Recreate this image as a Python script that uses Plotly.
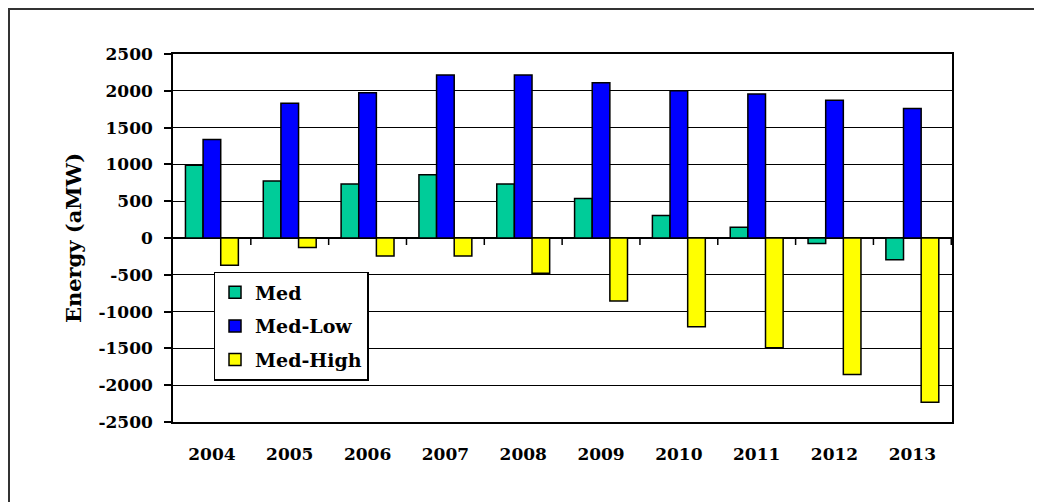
import plotly.graph_objects as go

years = ["2004", "2005", "2006", "2007", "2008", "2009", "2010", "2011", "2012", "2013"]
med = [990, 775, 735, 860, 735, 535, 305, 145, -75, -295]
med_low = [1340, 1830, 1975, 2215, 2215, 2110, 2000, 1955, 1870, 1760]
med_high = [-370, -130, -245, -245, -480, -855, -1205, -1490, -1855, -2230]
yticks = [2500, 2000, 1500, 1000, 500, 0, -500, -1000, -1500, -2000, -2500]
yticklabels = [str(v) for v in yticks]

FONT = "DejaVu Serif"
fig = go.Figure()
series = [("Med", med, "#00CC99"), ("Med-Low", med_low, "#0000FF"), ("Med-High", med_high, "#FFFF00")]
for name, vals, col in series:
    fig.add_trace(go.Bar(x=years, y=vals, name=name, legendgroup=name,
                         marker=dict(color=col, line=dict(color="black", width=1.5))))

# page has an 8px body margin: figure is offset by 8px right/down
fig.update_layout(
    width=1042, height=502,
    margin=dict(l=165, r=98, t=46, b=88, autoexpand=False),
    paper_bgcolor="white", plot_bgcolor="white",
    barmode="group", bargap=0.32, bargroupgap=0,
    font=dict(family=FONT, color="black", size=17, weight="bold"),
    xaxis=dict(type="category", showgrid=False, showline=True, mirror=True, linecolor="black",
               linewidth=1.5, ticks="", ticklabelstandoff=16, zeroline=False, automargin=False,
               tickfont=dict(family=FONT, size=17, weight="bold")),
    yaxis=dict(range=[-2500, 2500], tickmode="array", tickvals=yticks, ticktext=yticklabels,
               showgrid=True, gridcolor="black", gridwidth=1,
               showline=True, mirror=True, linecolor="black", linewidth=1.5, ticks="outside",
               ticklen=7, tickcolor="black", tickwidth=1.5, ticklabelstandoff=8,
               zeroline=True, zerolinecolor="black", zerolinewidth=1.5,
               automargin=False,
               tickfont=dict(family=FONT, size=17, weight="bold"),
               title=dict(text="Energy (aMW)", standoff=11,
                          font=dict(family=FONT, size=21, weight="bold"))),
    legend=dict(x=0.052, y=0.408, xanchor="left", yanchor="top", bgcolor="white",
                bordercolor="black", borderwidth=1.5, traceorder="grouped", tracegroupgap=6,
                itemwidth=30,
                font=dict(family=FONT, size=19, weight="bold")),
    showlegend=True,
)

# category-boundary tick marks hanging below the zero line
for i in range(1, len(years) + 1):
    fig.add_shape(type="line", xref="x", yref="y", x0=i - 0.5, x1=i - 0.5,
                  ysizemode="pixel", yanchor=0, y0=0, y1=-7, layer="above",
                  line=dict(color="black", width=1.5))

# outer frame of the chart
fig.add_shape(type="rect", xref="paper", yref="paper",
              x0=-164 / 779, x1=1.2, y0=-0.5, y1=1 + 45 / 368,
              line=dict(color="#333333", width=2), fillcolor="rgba(0,0,0,0)", layer="below")

fig.write_html("out.html")
